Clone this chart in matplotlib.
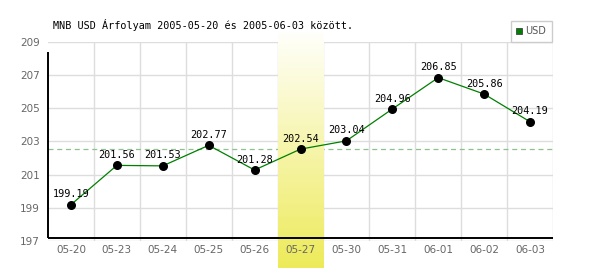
import matplotlib
matplotlib.use("Agg")
import matplotlib.pyplot as plt
import numpy as np
from matplotlib.patches import Rectangle

categories = ["05-20", "05-23", "05-24", "05-25", "05-26", "05-27", "05-30", "05-31", "06-01", "06-02", "06-03"]
values = [199.19, 201.56, 201.53, 202.77, 201.28, 202.54, 203.04, 204.96, 206.85, 205.86, 204.19]
y_ticks = [197, 199, 201, 203, 205, 207, 209]
highlight_index = 5
reference_value = 202.54
title = "MNB USD Árfolyam 2005-05-20 és 2005-06-03 között."
legend_label = "USD"

W, H = 600, 270
fig = plt.figure(figsize=(6, 2.7), dpi=100)
fig.patch.set_facecolor("white")
ax = fig.add_axes([48 / W, (H - 241) / H, (553 - 48) / W, (241 - 42) / H])
ax.set_facecolor("white")
for s in ax.spines.values():
    s.set_visible(False)

n = len(categories)
x = np.arange(n)
ymin, ymax = y_ticks[0], y_ticks[-1]
ax.set_xlim(-0.5, n - 0.5)
ax.set_ylim(ymin, ymax)
px_per_unit = (241 - 42) / (ymax - ymin)

# grid
for yv in y_ticks:
    ax.axhline(yv, color="#dddddd", lw=1.0, zorder=1)
for xv in np.arange(0.5, n, 1.0):
    ax.axvline(xv, color="#dddddd", lw=1.0, zorder=1)

# reference dashed line
ax.axhline(reference_value, color="#8fc08f", lw=0.9, ls=(0, (4, 3)), zorder=1.5)

# highlight band with gradient
grad = np.linspace(0, 1, 256).reshape(-1, 1)
top = np.array([1.0, 1.0, 0.985])
bot = np.array([0.93, 0.92, 0.35])
img = top[None, None, :] * (1 - grad[:, :, None]) + bot[None, None, :] * grad[:, :, None]
ylo = ymin - (268 - 241) / px_per_unit
yhi = ymax + (42 - 32) / px_per_unit
ax.imshow(img, extent=(highlight_index - 0.5, highlight_index + 0.5, ylo, yhi),
          aspect="auto", origin="upper", zorder=2, clip_on=False)
ax.set_xlim(-0.5, n - 0.5)
ax.set_ylim(ymin, ymax)
ax.xaxis.set_zorder(3)
ax.yaxis.set_zorder(3)

# black axis lines (offset)
ax.plot([0, 0], [3 / 199, (241 - 52) / 199], transform=ax.transAxes, color="black",
        lw=1.4, clip_on=False, zorder=4, solid_capstyle="butt")
ax.plot([0, 1], [3 / 199, 3 / 199], transform=ax.transAxes, color="black",
        lw=1.4, clip_on=False, zorder=4, solid_capstyle="butt")

# data
ax.plot(x, values, color="#008000", lw=0.9, zorder=5)
ax.scatter(x, values, s=30, color="black", zorder=6)
for xi, v in zip(x, values):
    ax.annotate(f"{v:.2f}", (xi, v), xytext=(0, 7.5), textcoords="offset points",
                ha="center", va="center", fontsize=7.3, family="DejaVu Sans Mono",
                color="black", zorder=7)

# ticks
ax.set_yticks(y_ticks)
ax.set_yticklabels([str(t) for t in y_ticks])
ax.set_xticks(x)
ax.set_xticklabels(categories)
ax.tick_params(axis="both", length=0, labelsize=7.5, colors="#666666")
ax.tick_params(axis="y", pad=6)
ax.tick_params(axis="x", pad=3)

# title
fig.text(53 / W, 1 - 25 / H, title, fontsize=7.3, family="DejaVu Sans Mono",
         color="black", ha="left", va="center")

# legend box
fig.patches.append(Rectangle((511 / W, 1 - 42 / H), 41 / W, 21 / H, transform=fig.transFigure,
                             facecolor="white", edgecolor="#cccccc", lw=1.0))
fig.patches.append(Rectangle((516 / W, 1 - 34 / H), 6 / W, 6 / H, transform=fig.transFigure,
                             facecolor="#008000", edgecolor="#444444", lw=0.6))
fig.text(525 / W, 1 - 31 / H, legend_label, fontsize=7, color="#555555", ha="left", va="center")

fig.savefig("out.png", dpi=100)
